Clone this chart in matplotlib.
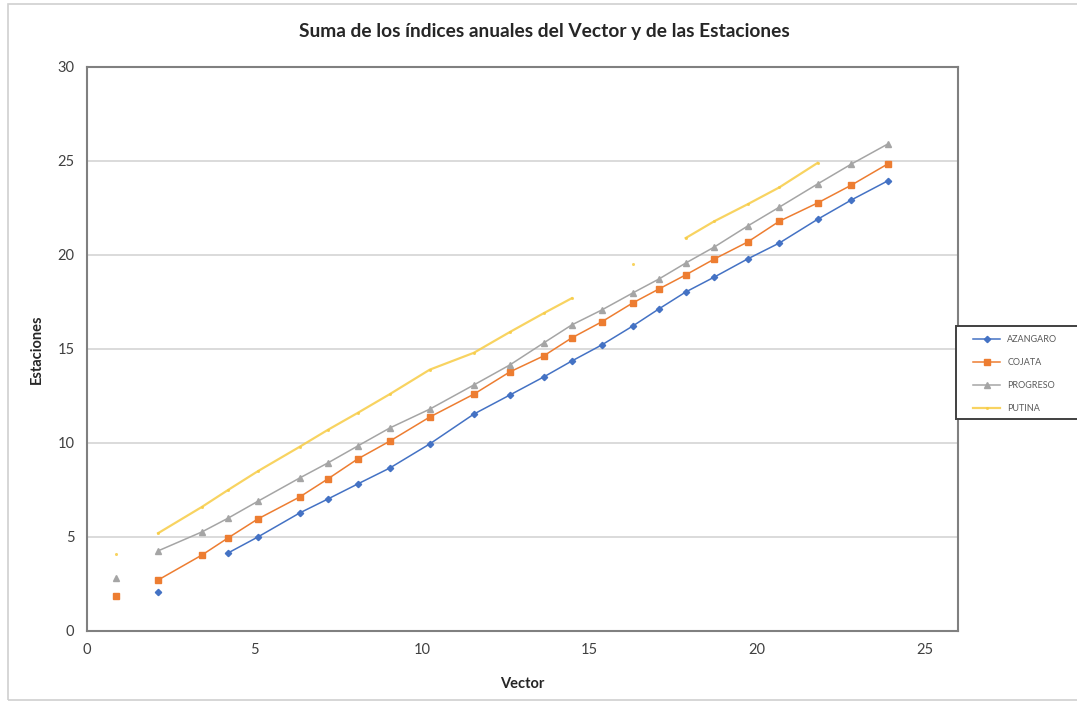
import numpy as np
import matplotlib
matplotlib.use("Agg")
import matplotlib.pyplot as plt
from matplotlib.patches import Rectangle

nan = np.nan

# Cumulative annual index of the reference vector (empty year after the first)
vector = [0.87, nan, 2.12, 3.43, 4.21, 5.10, 6.35, 7.19, 8.08, 9.04, 10.23, 11.55,
          12.62, 13.63, 14.47, 15.36, 16.29, 17.07, 17.87, 18.73, 19.72, 20.67,
          21.81, 22.82, 23.90]

azangaro = [nan, nan, 2.07, nan, 4.15, 5.00, 6.28, 7.02, 7.82, 8.67, 9.95, 11.54,
            12.55, 13.51, 14.36, 15.21, 16.22, 17.13, 18.03, 18.83, 19.79, 20.64,
            21.90, 22.93, 23.94]
cojata = [1.86, nan, 2.71, 4.04, 4.95, 5.96, 7.13, 8.09, 9.15, 10.10, 11.38, 12.60,
          13.78, 14.63, 15.59, 16.44, 17.45, 18.19, 18.94, 19.79, 20.69, 21.80,
          22.77, 23.72, 24.84]
progreso = [2.82, nan, 4.26, 5.27, 6.00, 6.90, 8.14, 8.94, 9.84, 10.80, 11.80, 13.09,
            14.15, 15.32, 16.28, 17.07, 17.98, 18.72, 19.57, 20.43, 21.54, 22.55,
            23.78, 24.84, 25.90]
putina = [4.10, nan, 5.20, 6.60, 7.50, 8.50, 9.80, 10.70, 11.60, 12.60, 13.90, 14.80,
          15.90, 16.90, 17.70, nan, 19.50, nan, 20.90, 21.80, 22.70, 23.60,
          24.90, nan, nan]

series_names = ["AZANGARO", "COJATA", "PROGRESO", "PUTINA"]
x_ticks = [0, 5, 10, 15, 20, 25]
y_ticks = [0, 5, 10, 15, 20, 25, 30]

plt.rcParams['font.family'] = ['Lato', 'DejaVu Sans']

W, H = 1077, 704
fig = plt.figure(figsize=(W / 100, H / 100), dpi=100)
fig.patch.set_facecolor("white")

# chart-area border
fig.patches.append(Rectangle((8 / W, 4 / H), (W + 10 - 8) / W, (700 - 4) / H,
                             transform=fig.transFigure, fill=False,
                             edgecolor="#d0d0d0", linewidth=1.2, zorder=0))

ax = fig.add_axes([87 / W, 1 - 631 / H, (958 - 87) / W, (631 - 67) / H])

styles = [
    dict(color="#4472C4", marker="D", markersize=3.2, linewidth=1.1),
    dict(color="#ED7D31", marker="s", markersize=4.8, linewidth=1.1),
    dict(color="#A5A5A5", marker="^", markersize=4.5, linewidth=1.1),
    dict(color="#F7CC45", marker="o", markersize=2.2, markeredgewidth=0,
         linewidth=1.6, alpha=0.85),
]
x = np.array(vector, dtype=float)
for name, vals, st in zip(series_names, [azangaro, cojata, progreso, putina], styles):
    ax.plot(x, np.array(vals, dtype=float), label=name, zorder=3, **st)

ax.set_xlim(0, 26)
ax.set_ylim(0, 30)
ax.set_xticks(x_ticks)
ax.set_yticks(y_ticks)
ax.yaxis.grid(True, color="#d4d4d4", linewidth=1.2, zorder=0)
ax.set_axisbelow(True)
ax.tick_params(length=0, labelsize=10.5, colors="#404040", pad=9)
for sp in ax.spines.values():
    sp.set_color("#808080")
    sp.set_linewidth(1.5)

fig.text(544 / W, 1 - 32 / H,
         "Suma de los índices anuales del Vector y de las Estaciones",
         fontsize=13.8, fontweight="bold", color="#262626", ha="center", va="center")
ax.set_xlabel("Vector", fontsize=10.5, fontweight="bold", color="#262626", labelpad=14)
ax.set_ylabel("Estaciones", fontsize=10.5, fontweight="bold", color="#262626", labelpad=10)

# legend box running off the right edge of the chart
fig.patches.append(Rectangle((956 / W, 1 - 419 / H), 140 / W, 93 / H,
                             transform=fig.transFigure, facecolor="white",
                             edgecolor="#404040", linewidth=1.4, zorder=4))
leg = fig.legend(loc="upper left", bbox_to_anchor=(973 / W, 1 - 335 / H),
                 frameon=False, fontsize=6.5, handlelength=3.0, handletextpad=0.8,
                 borderpad=0, labelspacing=1.55, borderaxespad=0)
leg.set_zorder(5)
for t in leg.get_texts():
    t.set_color("#595959")

fig.savefig("out.png", dpi=100)
